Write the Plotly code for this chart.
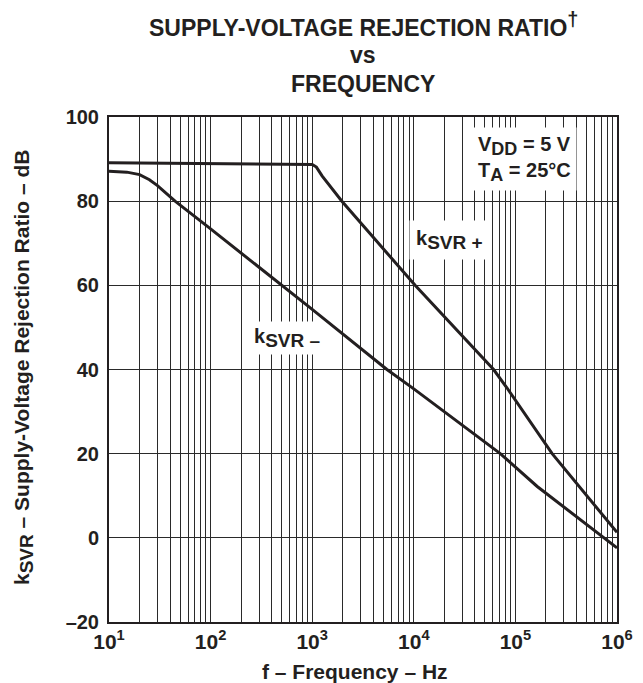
import plotly.graph_objects as go

# kSVR+ curve (frequency Hz, dB)
f_pos = [10, 30, 100, 300, 1000, 1100, 1250, 1960, 10300, 61000, 82800, 230000, 1000000]
k_pos = [89.1, 89.0, 88.9, 88.8, 88.7, 88.1, 86.0, 80.0, 60.0, 40.0, 35.6, 20.0, 1.3]

# kSVR- curve
f_neg = [10, 15, 20, 25, 30, 44.7, 100, 502, 1000, 5440, 10000, 71000, 100000, 164000, 1000000]
k_neg = [87.1, 86.9, 86.3, 85.1, 83.7, 80.0, 73.4, 60.0, 54.3, 40.0, 35.4, 20.0, 16.8, 12.2, -2.4]

y_ticks = [-20, 0, 20, 40, 60, 80, 100]
y_labels = ["–20", "0", "20", "40", "60", "80", "100"]
decades = [1, 2, 3, 4, 5, 6]

FONT = "Liberation Sans, Arial, sans-serif"
INK = "#231f20"

# the page body has an 8px margin: figure is shifted by OFF
OFF = 8
W, H = 643 - OFF, 683 - OFF
# plot-area geometry in page pixels
L, R, T, B = 109, 617, 117, 622
PW, PH = R - L, B - T


def px(xp):
    return (xp - L) / PW


def py(yp):
    return (B - yp) / PH


x_vals = []
x_text = []
for d in decades:
    for m in range(1, 10):
        if d == decades[-1] and m > 1:
            break
        x_vals.append(m * 10 ** d)
        x_text.append(f"10<sup>{d}</sup>" if m == 1 else "")

fig = go.Figure()
fig.add_trace(go.Scatter(x=f_pos, y=k_pos, mode="lines",
                         line=dict(color=INK, width=3), hoverinfo="skip"))
fig.add_trace(go.Scatter(x=f_neg, y=k_neg, mode="lines",
                         line=dict(color=INK, width=3), hoverinfo="skip"))

fig.update_layout(
    width=W, height=H,
    margin=dict(l=L - OFF, r=(643 - R), t=T - OFF, b=(683 - B), autoexpand=False),
    paper_bgcolor="white", plot_bgcolor="white",
    showlegend=False,
    font=dict(family=FONT, color=INK, weight="bold"),
    xaxis=dict(
        type="log", range=[1, 6], automargin=False,
        tickvals=x_vals, ticktext=x_text,
        showgrid=True, gridcolor="#2a2a2a", gridwidth=1,
        showline=True, linecolor=INK, linewidth=2, mirror=True,
        ticks="", zeroline=False,
        tickfont=dict(size=21, family=FONT, color=INK, weight="bold"),
    ),
    yaxis=dict(
        range=[-20, 100], automargin=False,
        tickvals=y_ticks, ticktext=y_labels,
        showgrid=True, gridcolor="#2a2a2a", gridwidth=1,
        showline=True, linecolor=INK, linewidth=2, mirror=True,
        ticks="", zeroline=False, ticklabelstandoff=4,
        tickfont=dict(size=20, family=FONT, color=INK, weight="bold"),
    ),
)

# title lines
title_lines = [("SUPPLY-VOLTAGE REJECTION RATIO<sup><span style='font-size:20px'>†</span></sup>", 24),
               ("vs", 55), ("FREQUENCY", 84)]
for txt, yc in title_lines:
    fig.add_annotation(x=px(363), y=py(yc), xref="paper", yref="paper",
                       xanchor="center", yanchor="middle", text=txt, showarrow=False,
                       font=dict(size=23, family=FONT, color=INK, weight="bold"))

# axis titles
fig.add_annotation(x=px(355), y=py(671), xref="paper", yref="paper",
                   xanchor="center", yanchor="middle", showarrow=False,
                   text="f – Frequency – Hz",
                   font=dict(size=21, family=FONT, color=INK, weight="bold"))
fig.add_annotation(x=px(23), y=py(368), xref="paper", yref="paper",
                   xanchor="center", yanchor="middle", showarrow=False, textangle=-90,
                   text="k<sub><span style='font-size:19px'>SVR</span></sub> – Supply-Voltage Rejection Ratio – dB",
                   font=dict(size=21, family=FONT, color=INK, weight="bold"))

# condition box
fig.add_annotation(x=px(472), y=py(127), xref="paper", yref="paper",
                   xanchor="left", yanchor="top", align="left",
                   text="V<sub><span style='font-size:18px'>DD</span></sub> = 5 V<br>"
                        "T<sub><span style='font-size:18px'>A</span></sub> = 25°C",
                   showarrow=False, bgcolor="white", borderpad=5,
                   font=dict(size=20, family=FONT, color=INK, weight="bold"))

# curve labels
fig.add_annotation(x=px(449), y=py(240), xref="paper", yref="paper",
                   xanchor="center", yanchor="middle",
                   text="k<sub><span style='font-size:19px'>SVR +</span></sub>",
                   showarrow=False, bgcolor="white", borderpad=6,
                   font=dict(size=20, family=FONT, color=INK, weight="bold"))
fig.add_annotation(x=px(287), y=py(338), xref="paper", yref="paper",
                   xanchor="center", yanchor="middle",
                   text="k<sub><span style='font-size:19px'>SVR –</span></sub>",
                   showarrow=False, bgcolor="white", borderpad=3,
                   font=dict(size=20, family=FONT, color=INK, weight="bold"))

fig.write_html("out.html")
